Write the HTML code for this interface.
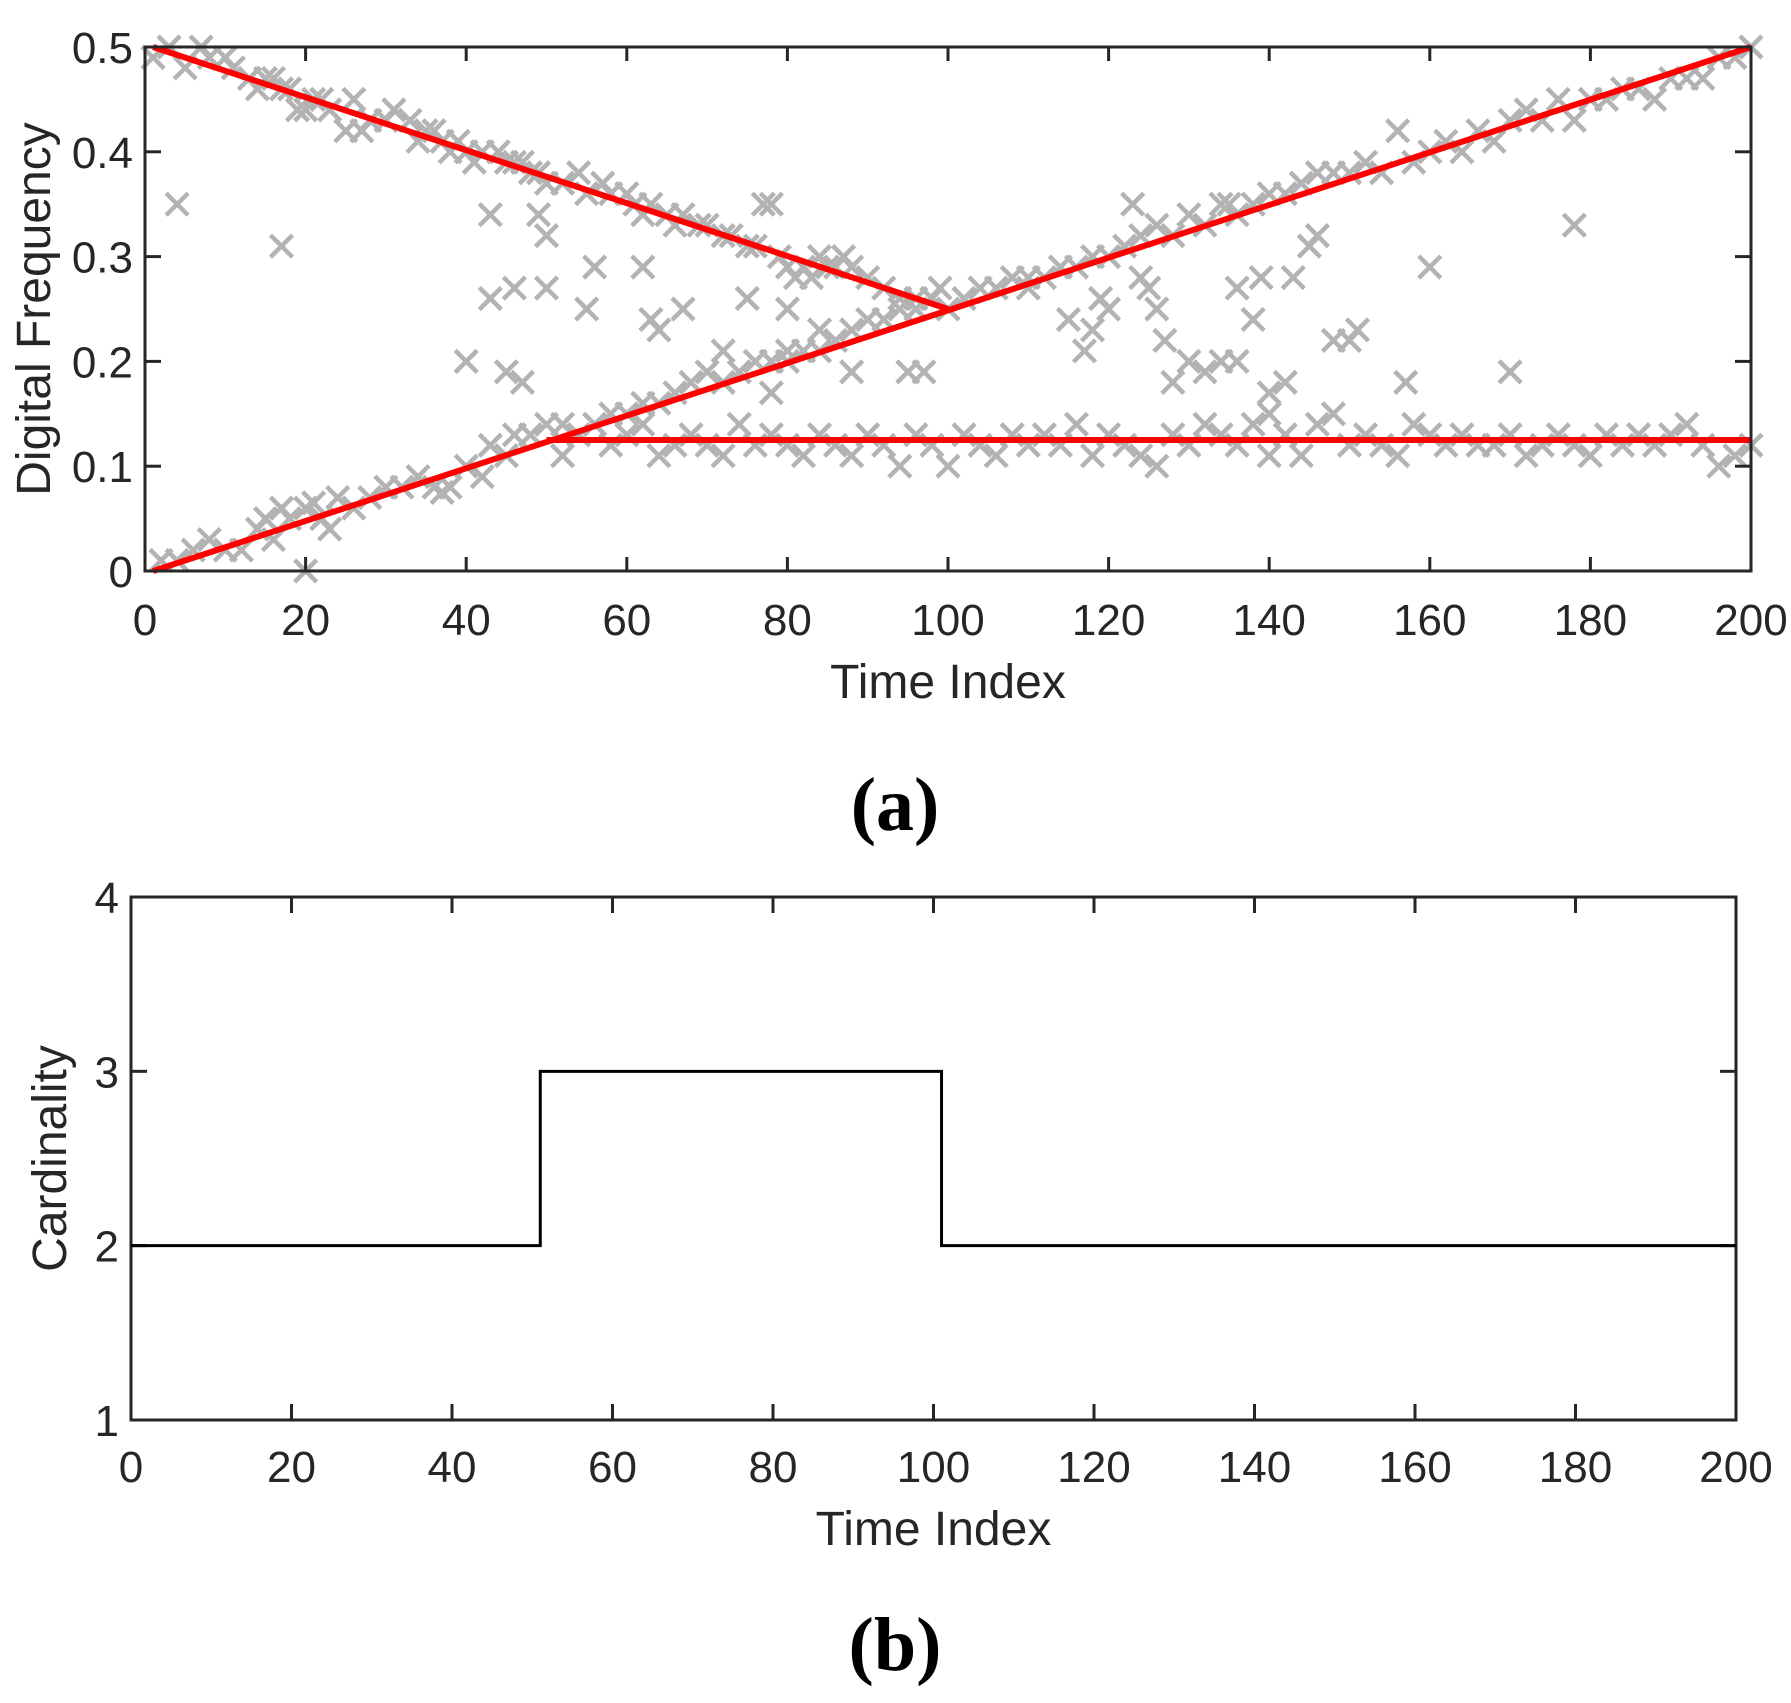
<!DOCTYPE html>
<html><head><meta charset="utf-8"><style>
body{margin:0;background:#fff;}
svg{display:block;}
text{font-family:"Liberation Sans",Arial,sans-serif;fill:#262626;}
</style></head><body>
<svg id="fig" width="1791" height="1703" viewBox="0 0 1791 1703" xmlns="http://www.w3.org/2000/svg">
<g id="pa"></g>
<g id="pb"></g>
<text x="895" y="830" text-anchor="middle" font-size="76" font-weight="bold" style="font-family:'Liberation Serif',serif;fill:#000">(a)</text>
<text x="895" y="1670" text-anchor="middle" font-size="76" font-weight="bold" style="font-family:'Liberation Serif',serif;fill:#000">(b)</text>
</svg>
<script>
const scatterX=[1,3,5,7,8,10,11,13,14,15,16,17,18,19,20,21,22,23,25,26,27,28,30,31,33,34,35,36,37,38,39,40,41,42,44,45,46,47,48,49,50,52,54,55,57,58,60,61,62,63,65,66,67,69,70,72,73,75,76,78,79,80,81,82,83,84,85,86,87,88,90,92,94,96,98,99,
2,4,6,8,10,12,14,15,16,17,18,20,21,22,23,24,26,28,30,32,34,36,37,38,40,42,43,45,46,48,50,52,54,56,58,60,62,64,66,68,70,72,74,76,78,80,82,84,86,88,90,92,94,96,98,100,102,104,106,108,110,112,114,116,118,120,122,124,126,128,130,132,134,135,136,138,140,142,144,146,148,150,152,154,156,158,160,162,164,166,168,170,172,174,176,178,180,182,184,186,188,190,192,194,196,198,200,
52,54,56,58,60,62,64,66,68,70,72,74,76,78,80,82,84,86,88,90,92,94,96,98,100,102,104,106,108,110,112,114,116,118,120,122,124,126,128,130,132,134,136,138,140,142,144,146,148,150,152,154,156,158,160,162,164,166,168,170,172,174,176,178,180,182,184,186,188,190,192,194,196,198,200,
4,17,40,43,43,45,46,47,49,50,50,55,56,62,63,64,67,72,75,77,78,80,80,84,88,95,97,110,115,117,118,119,120,123,124,125,126,127,128,130,132,134,136,136,138,139,140,140,142,143,145,146,148,150,151,157,160,170,178,20];
const scatterY=[.49,.5,.48,.5,.49,.49,.48,.47,.46,.47,.47,.46,.46,.44,.44,.45,.45,.44,.42,.45,.42,.43,.43,.44,.43,.41,.42,.42,.41,.40,.41,.40,.39,.40,.40,.39,.39,.39,.38,.38,.37,.37,.38,.36,.37,.36,.36,.35,.34,.35,.34,.33,.34,.33,.33,.32,.32,.31,.31,.35,.30,.29,.28,.29,.28,.30,.29,.29,.30,.29,.28,.27,.26,.26,.26,.27,
.01,.01,.02,.03,.02,.02,.04,.05,.03,.06,.05,.06,.065,.05,.04,.07,.06,.07,.08,.08,.09,.08,.075,.08,.10,.09,.12,.11,.13,.13,.14,.14,.13,.14,.15,.15,.16,.16,.17,.18,.19,.18,.19,.20,.20,.20,.21,.21,.22,.23,.24,.24,.25,.25,.26,.25,.26,.27,.27,.28,.28,.28,.29,.29,.30,.30,.31,.32,.33,.32,.34,.33,.35,.35,.34,.35,.36,.36,.37,.38,.38,.38,.39,.38,.42,.39,.40,.41,.40,.42,.41,.43,.44,.43,.45,.43,.45,.45,.46,.46,.45,.47,.47,.47,.49,.49,.50,
.11,.13,.14,.12,.13,.14,.11,.12,.13,.12,.11,.14,.12,.13,.12,.11,.13,.12,.11,.13,.12,.10,.13,.12,.10,.13,.12,.11,.13,.12,.13,.12,.14,.11,.13,.12,.11,.10,.13,.12,.14,.13,.12,.14,.11,.13,.11,.14,.15,.12,.13,.12,.11,.14,.13,.12,.13,.12,.12,.13,.11,.12,.13,.12,.11,.13,.12,.13,.12,.13,.14,.12,.10,.11,.12,
.35,.31,.2,.34,.26,.19,.27,.18,.34,.32,.27,.25,.29,.29,.24,.23,.25,.21,.26,.35,.17,.25,.21,.23,.19,.19,.19,.27,.24,.21,.23,.26,.25,.35,.28,.27,.25,.22,.18,.20,.19,.20,.27,.20,.24,.28,.17,.15,.18,.28,.31,.32,.22,.22,.23,.18,.29,.19,.33,.0];
const trackX=[[1,100],[1,200],[50,200]];
const trackY=[[0.5,0.25],[0,0.5],[0.125,0.125]];
const aXTicks=[0,20,40,60,80,100,120,140,160,180,200];
const aYTicks=[0,0.1,0.2,0.3,0.4,0.5];
const aYLabels=["0","0.1","0.2","0.3","0.4","0.5"];
const cardX=[0,51,51,101,101,200];
const cardY=[2,2,3,3,2,2];
const bYTicks=[1,2,3,4];

const NS="http://www.w3.org/2000/svg";
function mk(p,t,a){const e=document.createElementNS(NS,t);for(const k in a)e.setAttribute(k,a[k]);p.appendChild(e);return e;}

// Panel A
const A={l:145,r:1751,t:47,b:571};
const ax=v=>A.l+(v-0)/(200-0)*(A.r-A.l);
const ay=v=>A.b-(v-0)/(0.5-0)*(A.b-A.t);
const pa=document.getElementById('pa');
const sg=mk(pa,'g',{stroke:'#b3b3b3','stroke-width':4.5});


for(let i=0;i<scatterX.length;i++){
  const x=ax(scatterX[i]),y=ay(scatterY[i]),h=11;
  const p=mk(sg,'path',{d:`M${x-h},${y-h}L${x+h},${y+h}M${x-h},${y+h}L${x+h},${y-h}`});
  
  
}
for(let k=0;k<trackX.length;k++){
  const l=mk(pa,'line',{x1:ax(trackX[k][0]),y1:ay(trackY[k][0]),x2:ax(trackX[k][1]),y2:ay(trackY[k][1]),stroke:'#ff0000','stroke-width':6});
  
  
}
const fa=mk(pa,'rect',{x:A.l,y:A.t,width:A.r-A.l,height:A.b-A.t,fill:'none',stroke:'#262626','stroke-width':3});


aXTicks.forEach(v=>{
  const x=ax(v);
  mk(pa,'line',{x1:x,y1:A.b,x2:x,y2:A.b-14,stroke:'#262626','stroke-width':3});
  mk(pa,'line',{x1:x,y1:A.t,x2:x,y2:A.t+14,stroke:'#262626','stroke-width':3});
  const t=mk(pa,'text',{x:x,y:A.b+64,'text-anchor':'middle','font-size':44});
  t.textContent=v;
  
  
});
aYTicks.forEach((v,i)=>{
  const y=ay(v);
  mk(pa,'line',{x1:A.l,y1:y,x2:A.l+16,y2:y,stroke:'#262626','stroke-width':3});
  mk(pa,'line',{x1:A.r,y1:y,x2:A.r-16,y2:y,stroke:'#262626','stroke-width':3});
  const t=mk(pa,'text',{x:A.l-12,y:y+16,'text-anchor':'end','font-size':44});
  t.textContent=aYLabels[i];
  
  
});
let t=mk(pa,'text',{x:(A.l+A.r)/2,y:698,'text-anchor':'middle','font-size':48});
t.textContent='Time Index';


t=mk(pa,'text',{x:0,y:0,'text-anchor':'middle','font-size':48,transform:`translate(50,${(A.t+A.b)/2}) rotate(-90)`});
t.textContent='Digital Frequency';



// Panel B
const B={l:131,r:1736,t:897,b:1420};
const bx=v=>B.l+v/200*(B.r-B.l);
const by=v=>B.b-(v-1)/(4-1)*(B.b-B.t);
const pb=document.getElementById('pb');
const fb=mk(pb,'rect',{x:B.l,y:B.t,width:B.r-B.l,height:B.b-B.t,fill:'none',stroke:'#262626','stroke-width':3});


aXTicks.forEach(v=>{
  const x=bx(v);
  mk(pb,'line',{x1:x,y1:B.b,x2:x,y2:B.b-16,stroke:'#262626','stroke-width':3});
  mk(pb,'line',{x1:x,y1:B.t,x2:x,y2:B.t+16,stroke:'#262626','stroke-width':3});
  const t=mk(pb,'text',{x:x,y:B.b+62,'text-anchor':'middle','font-size':44});
  t.textContent=v;
  
  
});
bYTicks.forEach(v=>{
  const y=by(v);
  mk(pb,'line',{x1:B.l,y1:y,x2:B.l+16,y2:y,stroke:'#262626','stroke-width':3});
  mk(pb,'line',{x1:B.r,y1:y,x2:B.r-16,y2:y,stroke:'#262626','stroke-width':3});
  const t=mk(pb,'text',{x:B.l-12,y:y+16,'text-anchor':'end','font-size':44});
  t.textContent=v;
  
  
});
const pl=mk(pb,'polyline',{points:cardX.map((x,i)=>bx(x)+','+by(cardY[i])).join(' '),fill:'none',stroke:'#000','stroke-width':3});


t=mk(pb,'text',{x:(B.l+B.r)/2,y:1545,'text-anchor':'middle','font-size':48});
t.textContent='Time Index';


t=mk(pb,'text',{x:0,y:0,'text-anchor':'middle','font-size':48,transform:`translate(66,${(B.t+B.b)/2}) rotate(-90)`});
t.textContent='Cardinality';


</script>
</body></html>
